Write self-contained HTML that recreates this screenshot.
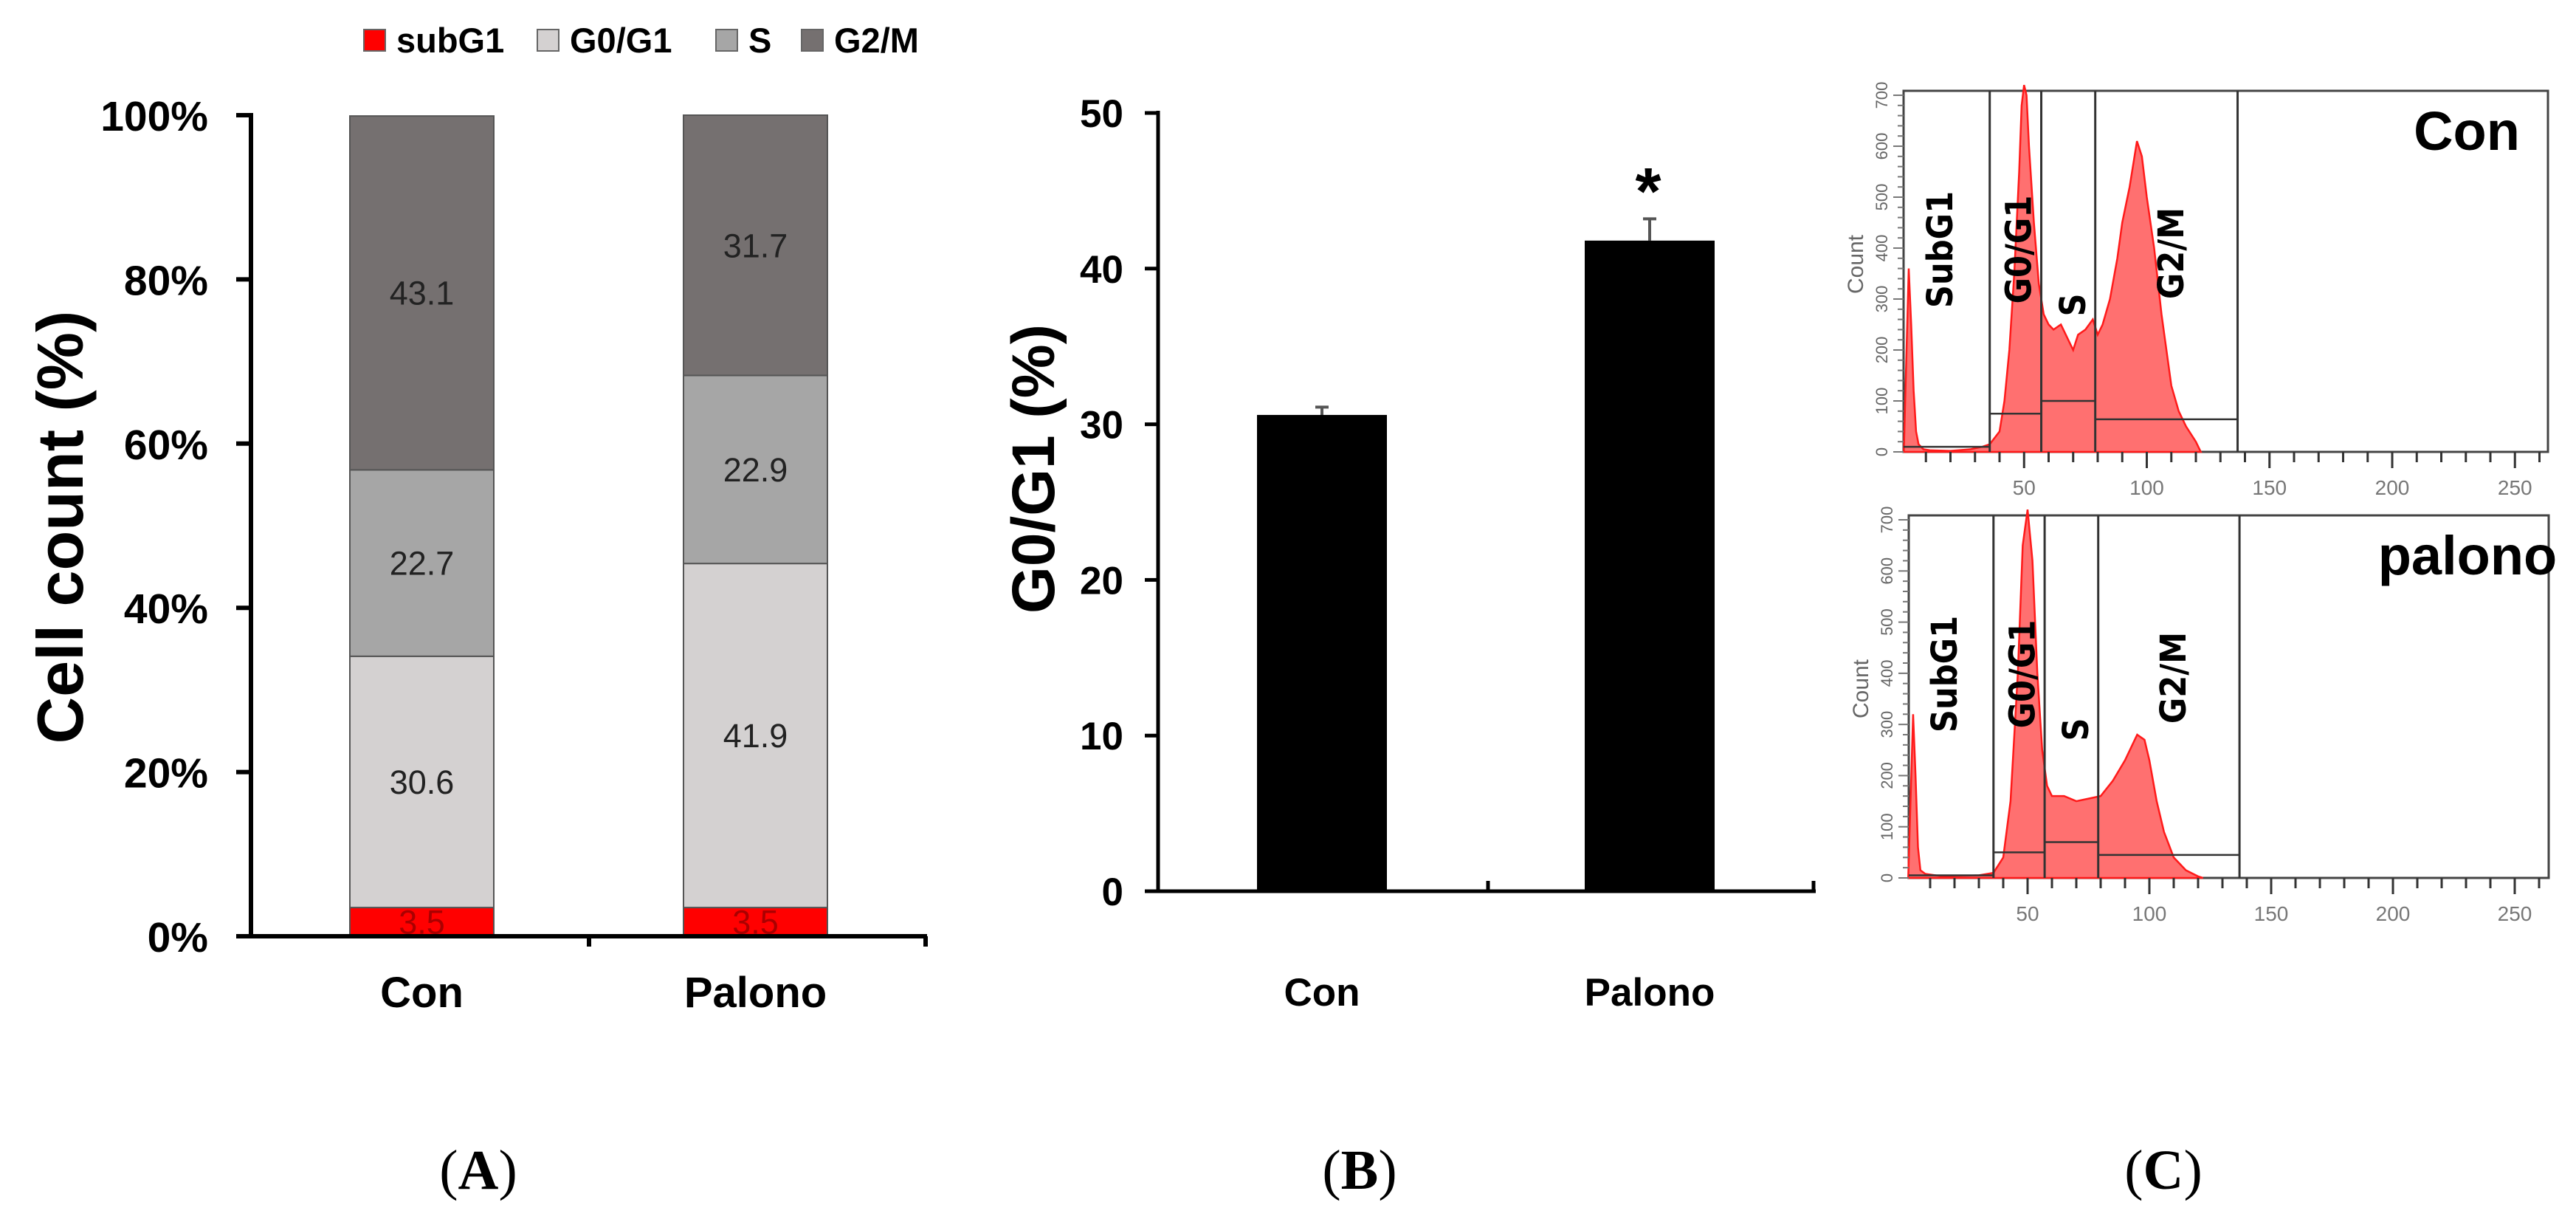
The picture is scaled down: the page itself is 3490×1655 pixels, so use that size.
<!DOCTYPE html>
<html><head><meta charset="utf-8"><style>
html,body{margin:0;padding:0;background:#fff;}
svg{display:block;font-family:"Liberation Sans",sans-serif;}
</style></head><body>
<svg id="fig" width="3490" height="1655" viewBox="0 0 3490 1655" xmlns="http://www.w3.org/2000/svg">
<g id="pa"></g>
<g id="pb"></g>
<g id="pc"></g>
<text x="648" y="1610" text-anchor="middle" font-family="Liberation Serif,serif" font-size="76">(<tspan font-weight="bold">A</tspan>)</text>
<text x="1842" y="1610" text-anchor="middle" font-family="Liberation Serif,serif" font-size="76">(<tspan font-weight="bold">B</tspan>)</text>
<text x="2931" y="1610" text-anchor="middle" font-family="Liberation Serif,serif" font-size="76">(<tspan font-weight="bold">C</tspan>)</text>
</svg>
<script>
// ---- Panel A data ----
const catsA = ["Con", "Palono"];
const phases = ["subG1", "G0/G1", "S", "G2/M"];
const conPhases = [3.5, 30.6, 22.7, 43.1];
const palonoPhases = [3.5, 41.9, 22.9, 31.7];
const ticksA = [0, 20, 40, 60, 80, 100];
// ---- Panel B data ----
const catsB = ["Con", "Palono"];
const g0g1Mean = [30.6, 41.8];
const g0g1Err = [0.5, 1.4];
const ticksB = [0, 10, 20, 30, 40, 50];
// ---- Panel C data (channel, count) ----
const conHistX = [1,3,4,5,6,7,9,12,20,28,33,36,40,42,44,46,48,49,50,51,52,54,56,58,60,62,65,67,70,72,75,78,80,82,85,88,90,93,96,98,100,103,106,108,110,113,116,120,122];
const conHistY = [0,360,250,120,40,15,5,3,2,5,10,15,40,100,200,350,550,680,720,700,600,450,330,270,250,240,250,230,200,230,240,260,230,250,300,380,450,520,610,580,500,400,270,200,130,80,50,20,0];
const palHistX = [1,3,4,5,6,8,15,30,36,40,43,46,48,50,52,54,56,58,60,65,70,75,80,85,90,95,98,100,103,106,110,115,120,122];
const palHistY = [0,320,200,60,15,8,3,5,10,40,150,400,650,720,620,400,250,180,160,160,150,155,160,190,230,280,270,230,150,90,40,15,3,0];
const gateEdges = [36, 57, 79, 137];
const conGateLevels = [10, 75, 100, 64];
const palGateLevels = [5, 50, 70, 45];
const gateNames = ["SubG1", "G0/G1", "S", "G2/M"];
const xTicksC = [50, 100, 150, 200, 250];

const NS = "http://www.w3.org/2000/svg";
function mk(parent, tag, attrs, text) {
  const e = document.createElementNS(NS, tag);
  for (const k in attrs) e.setAttribute(k, attrs[k]);
  if (text !== undefined) e.textContent = text;
  parent.appendChild(e);
  return e;
}

// ================= Panel A =================
(function () {
  const g = document.getElementById("pa");
  const x0 = 340, xEnd = 1256, y0 = 1268, y100 = 156;
  const yA = v => y0 - (v / 100) * (y0 - y100);
  const barX = [474, 926], barW = 195;
  const colors = ["#ff0000", "#d4d1d1", "#a6a6a6", "#757070"];
  const series = [conPhases, palonoPhases];
  series.forEach((vals, i) => {
    let cum = 0;
    vals.forEach((v, j) => {
      const top = yA(cum + v), bot = yA(cum);
      const r = mk(g, "rect", { x: barX[i], y: top, width: barW, height: bot - top, fill: colors[j], stroke: "#555", "stroke-width": 2 });
      
      
      const t = mk(g, "text", { x: barX[i] + barW / 2, y: (top + bot) / 2 + 16, "text-anchor": "middle", "font-size": 45, fill: j === 0 ? "#a00" : "#222" }, v.toFixed(1));
      
      
      cum += v;
    });
  });
  const ax = mk(g, "path", { d: `M${x0} ${y100 - 3} V${y0} H${xEnd} M798 ${y0} v14 M${xEnd - 2} ${y0} v14`, stroke: "#000", "stroke-width": 6, fill: "none" });
  
  
  ticksA.forEach(v => {
    const y = yA(v);
    mk(g, "line", { x1: x0 - 20, x2: x0, y1: y, y2: y, stroke: "#000", "stroke-width": 6 });
    const t = mk(g, "text", { x: 282, y: y + 21, "text-anchor": "end", "font-size": 57, "font-weight": "bold" }, v + "%");
    
    
  });
  catsA.forEach((c, i) => {
    const t = mk(g, "text", { x: barX[i] + barW / 2, y: 1364, "text-anchor": "middle", "font-size": 58, "font-weight": "bold" }, c);
    
    
  });
  const yt = mk(g, "text", { x: 0, y: 0, transform: "translate(112,714) rotate(-90)", "text-anchor": "middle", "font-size": 88, "font-weight": "bold" }, "Cell count (%)");
  
  
  const legX = [493, 728, 970, 1086];
  phases.forEach((p, j) => {
    const lg = mk(g, "g", {});
    
    
    mk(lg, "rect", { x: legX[j], y: 40, width: 29, height: 29, fill: colors[j], stroke: "#666", "stroke-width": 2 });
    mk(lg, "text", { x: legX[j] + 44, y: 71, "font-size": 47, "font-weight": "bold" }, p);
  });
})();

// ================= Panel B =================
(function () {
  const g = document.getElementById("pb");
  const x0 = 1569, xEnd = 2460, y0 = 1207, y50 = 153;
  const yB = v => y0 - (v / 50) * (y0 - y50);
  const barX = [1703, 2147], barW = 176;
  g0g1Mean.forEach((v, i) => {
    const cx = barX[i] + barW / 2;
    const e = mk(g, "path", { d: `M${cx} ${yB(v)} V${yB(v + g0g1Err[i])} M${cx - 9} ${yB(v + g0g1Err[i])} H${cx + 9}`, stroke: "#555", "stroke-width": 4 });
    
    
    const r = mk(g, "rect", { x: barX[i], y: yB(v), width: barW, height: y0 - yB(v), fill: "#000" });
    
    
    const t = mk(g, "text", { x: cx, y: 1362, "text-anchor": "middle", "font-size": 53, "font-weight": "bold" }, catsB[i]);
    
    
  });
  const st = mk(g, "text", { x: barX[1] + barW / 2 - 2, y: 290, "text-anchor": "middle", "font-size": 90, "font-weight": "bold" }, "*");
  
  
  const ax = mk(g, "path", { d: `M${x0} ${y50 - 3} V${y0} H${xEnd} M2016 ${y0} v-14 M${xEnd - 3} ${y0} v-14`, stroke: "#000", "stroke-width": 5, fill: "none" });
  
  
  ticksB.forEach(v => {
    const y = yB(v);
    mk(g, "line", { x1: x0 - 18, x2: x0, y1: y, y2: y, stroke: "#000", "stroke-width": 5 });
    const t = mk(g, "text", { x: 1522, y: y + 19, "text-anchor": "end", "font-size": 53, "font-weight": "bold" }, v);
    
    
  });
  const yt = mk(g, "text", { x: 0, y: 0, transform: "translate(1428,635) rotate(-90)", "text-anchor": "middle", "font-size": 82, "font-weight": "bold" }, "G0/G1 (%)");
  
  
})();

// ================= Panel C =================
function histogram(g, cfg, hx, hy, levels, title, nameKey) {
  const { left, right, top, bottom, x0px, pxPerUnit, y700 } = cfg;
  const xC = v => x0px + v * pxPerUnit;
  const yC = c => bottom - (c / 700) * (bottom - y700);
  const box = mk(g, "rect", { x: left, y: top, width: right - left, height: bottom - top, fill: "#fff", stroke: "#444", "stroke-width": 3 });
  
  
  let d = `M${xC(hx[0])} ${bottom}`;
  hx.forEach((v, i) => { d += ` L${xC(v)} ${yC(hy[i])}`; });
  d += ` L${xC(hx[hx.length - 1])} ${bottom} Z`;
  const h = mk(g, "path", { d: d, fill: "#ff7070", stroke: "#ff1a1a", "stroke-width": 2.5 });
  
  
  gateEdges.forEach((e) => {
    const vl = mk(g, "line", { x1: xC(e), x2: xC(e), y1: top, y2: bottom, stroke: "#333", "stroke-width": 3 });
    
    
  });
  levels.forEach((lv, i) => {
    const x1 = i === 0 ? left : xC(gateEdges[i - 1]);
    const x2 = xC(gateEdges[i]);
    const hl = mk(g, "line", { x1: x1, x2: x2, y1: yC(lv), y2: yC(lv), stroke: "#333", "stroke-width": 2.5 });
    
    
  });
  const labX = [xC(16), xC(48), xC(70), xC(110)];
  const labY = [top + 215, top + 215, top + 290, top + 220];
  gateNames.forEach((n, i) => {
    const t = mk(g, "text", { x: 0, y: 0, transform: `translate(${labX[i] + 16},${labY[i]}) rotate(-90)`, "text-anchor": "middle", "font-size": 48, "font-weight": "bold", "font-family": "'DejaVu Sans Condensed','Liberation Sans',sans-serif" }, n);
    
    
  });
  for (let c = 0; c <= 700; c += 20) {
    const y = yC(c);
    const major = c % 100 === 0;
    mk(g, "line", { x1: left - (major ? 14 : 8), x2: left, y1: y, y2: y, stroke: "#777", "stroke-width": 2 });
    if (major) {
      const t = mk(g, "text", { x: 0, y: 0, transform: `translate(${left - 22},${y}) rotate(-90)`, "text-anchor": "middle", "font-size": 22, fill: "#666" }, c);
      
      
    }
  }
  const ct = mk(g, "text", { x: 0, y: 0, transform: `translate(${left - 55},${top + 235}) rotate(-90)`, "text-anchor": "middle", "font-size": 30, fill: "#666" }, "Count");
  
  
  for (let v = 10; v <= 260; v += 10) {
    const major = v % 50 === 0;
    mk(g, "line", { x1: xC(v), x2: xC(v), y1: bottom, y2: bottom + (major ? 22 : 14), stroke: "#333", "stroke-width": 3 });
  }
  xTicksC.forEach(v => {
    const t = mk(g, "text", { x: xC(v), y: bottom + 58, "text-anchor": "middle", "font-size": 28, fill: "#777" }, v);
    
    
  });
  const tt = mk(g, "text", { x: right - 110, y: top + 80, "text-anchor": "middle", "font-size": 74, "font-weight": "bold" }, title);
  
  
}
(function () {
  const g = document.getElementById("pc");
  const gt = mk(g, "g", {});
  
  
  histogram(gt, { left: 2579, right: 3452, top: 123, bottom: 612, x0px: 2576, pxPerUnit: 3.325, y700: 129 }, conHistX, conHistY, conGateLevels, "Con", "con");
  const gb = mk(g, "g", {});
  
  
  histogram(gb, { left: 2586, right: 3453, top: 698, bottom: 1189, x0px: 2582, pxPerUnit: 3.3, y700: 704 }, palHistX, palHistY, palGateLevels, "palono", "palono");
})();
</script>
</body></html>
